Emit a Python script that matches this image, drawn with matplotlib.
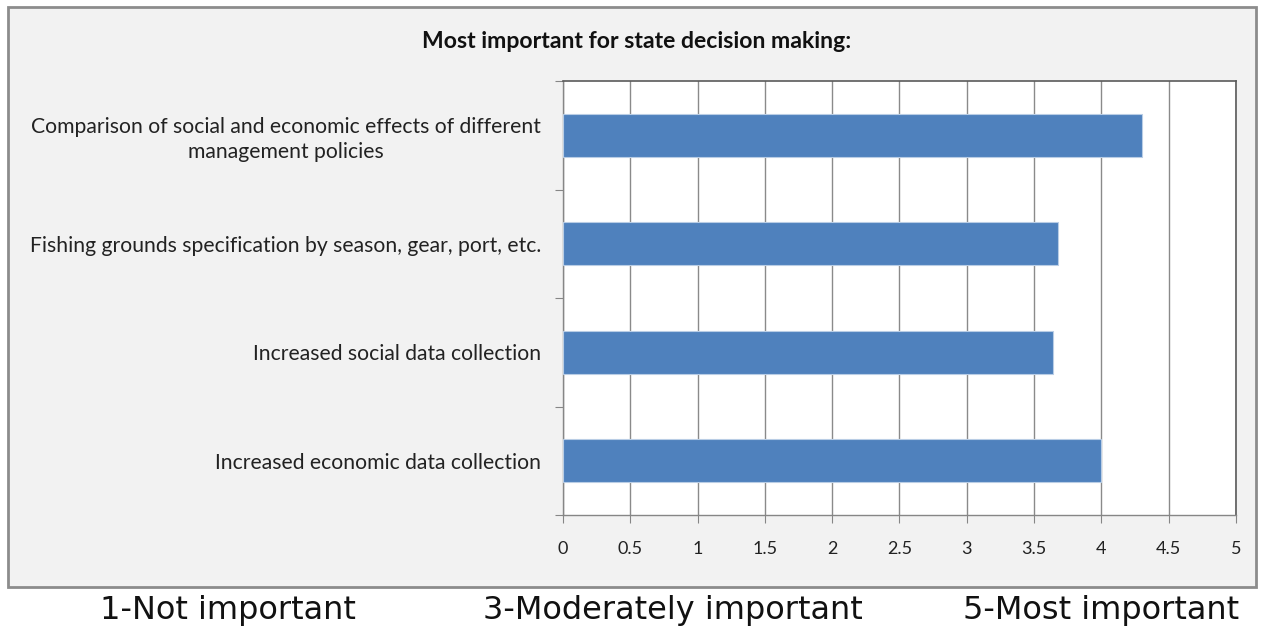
import matplotlib
matplotlib.use("Agg")
import matplotlib.pyplot as plt
from matplotlib.patches import Rectangle

categories = [
    "Comparison of social and economic effects of different\nmanagement policies",
    "Fishing grounds specification by season, gear, port, etc.",
    "Increased social data collection",
    "Increased economic data collection",
]
values = [4.30, 3.68, 3.64, 4.00]
x_ticks = [0, 0.5, 1, 1.5, 2, 2.5, 3, 3.5, 4, 4.5, 5]
x_tick_labels = ["0", "0.5", "1", "1.5", "2", "2.5", "3", "3.5", "4", "4.5", "5"]
title = "Most important for state decision making:"
scale_notes = ["1-Not important", "3-Moderately important", "5-Most important"]

W, H = 1264, 628
fig = plt.figure(figsize=(W / 100, H / 100), dpi=100)
fig.patch.set_facecolor("white")

# chart frame
frame = Rectangle((8 / W, 1 - 587 / H), (1256 - 8) / W, (587 - 7) / H,
                  transform=fig.transFigure, facecolor="#f2f2f2",
                  edgecolor="#8c8c8c", linewidth=2, zorder=0)
fig.add_artist(frame)

ax = fig.add_axes([563 / W, 1 - 515 / H, (1236 - 563) / W, (515 - 81) / H])
ax.set_facecolor("white")

n = len(categories)
ypos = list(range(n - 1, -1, -1))
ax.barh(ypos, values, height=0.4, color="#4f81bd", edgecolor="#b9cde5",
        linewidth=0.8, zorder=3)

ax.set_xlim(0, 5)
ax.set_ylim(-0.5, n - 0.5)
ax.set_xticks(x_ticks)
ax.set_xticklabels(x_tick_labels, fontsize=13, family="Lato", color="#222222")
ax.tick_params(axis="x", direction="out", length=6, color="#868686", pad=13)
ax.grid(axis="x", color="#8a8a8a", linewidth=1, zorder=1)
ax.set_axisbelow(True)

# category boundaries get tick marks, category centres get labels
ax.set_yticks([i - 0.5 for i in range(n + 1)])
ax.set_yticklabels([])
ax.tick_params(axis="y", which="major", direction="out", length=6, color="#868686")
ax.set_yticks(ypos, minor=True)
ax.set_yticklabels(categories, minor=True, fontsize=15.2, family="Lato",
                   color="#222222", multialignment="center", linespacing=1.3)
ax.tick_params(axis="y", which="minor", length=0, pad=16)

for side in ("left", "bottom"):
    ax.spines[side].set_color("#868686")
    ax.spines[side].set_linewidth(1)
for side in ("top", "right"):
    ax.spines[side].set_color("#5a5a5a")
    ax.spines[side].set_linewidth(1.2)

fig.text(637 / W, 1 - 42 / H, title, ha="center", va="center",
         fontsize=16.6, fontweight="bold", family="Lato", color="#111111")

for txt, xc in zip(scale_notes, [228, 673, 1101]):
    fig.text(xc / W, 1 - 610 / H, txt, ha="center", va="center",
             fontsize=23, family="DejaVu Sans", color="#111111")

fig.savefig("out.png", dpi=100, facecolor="white")
